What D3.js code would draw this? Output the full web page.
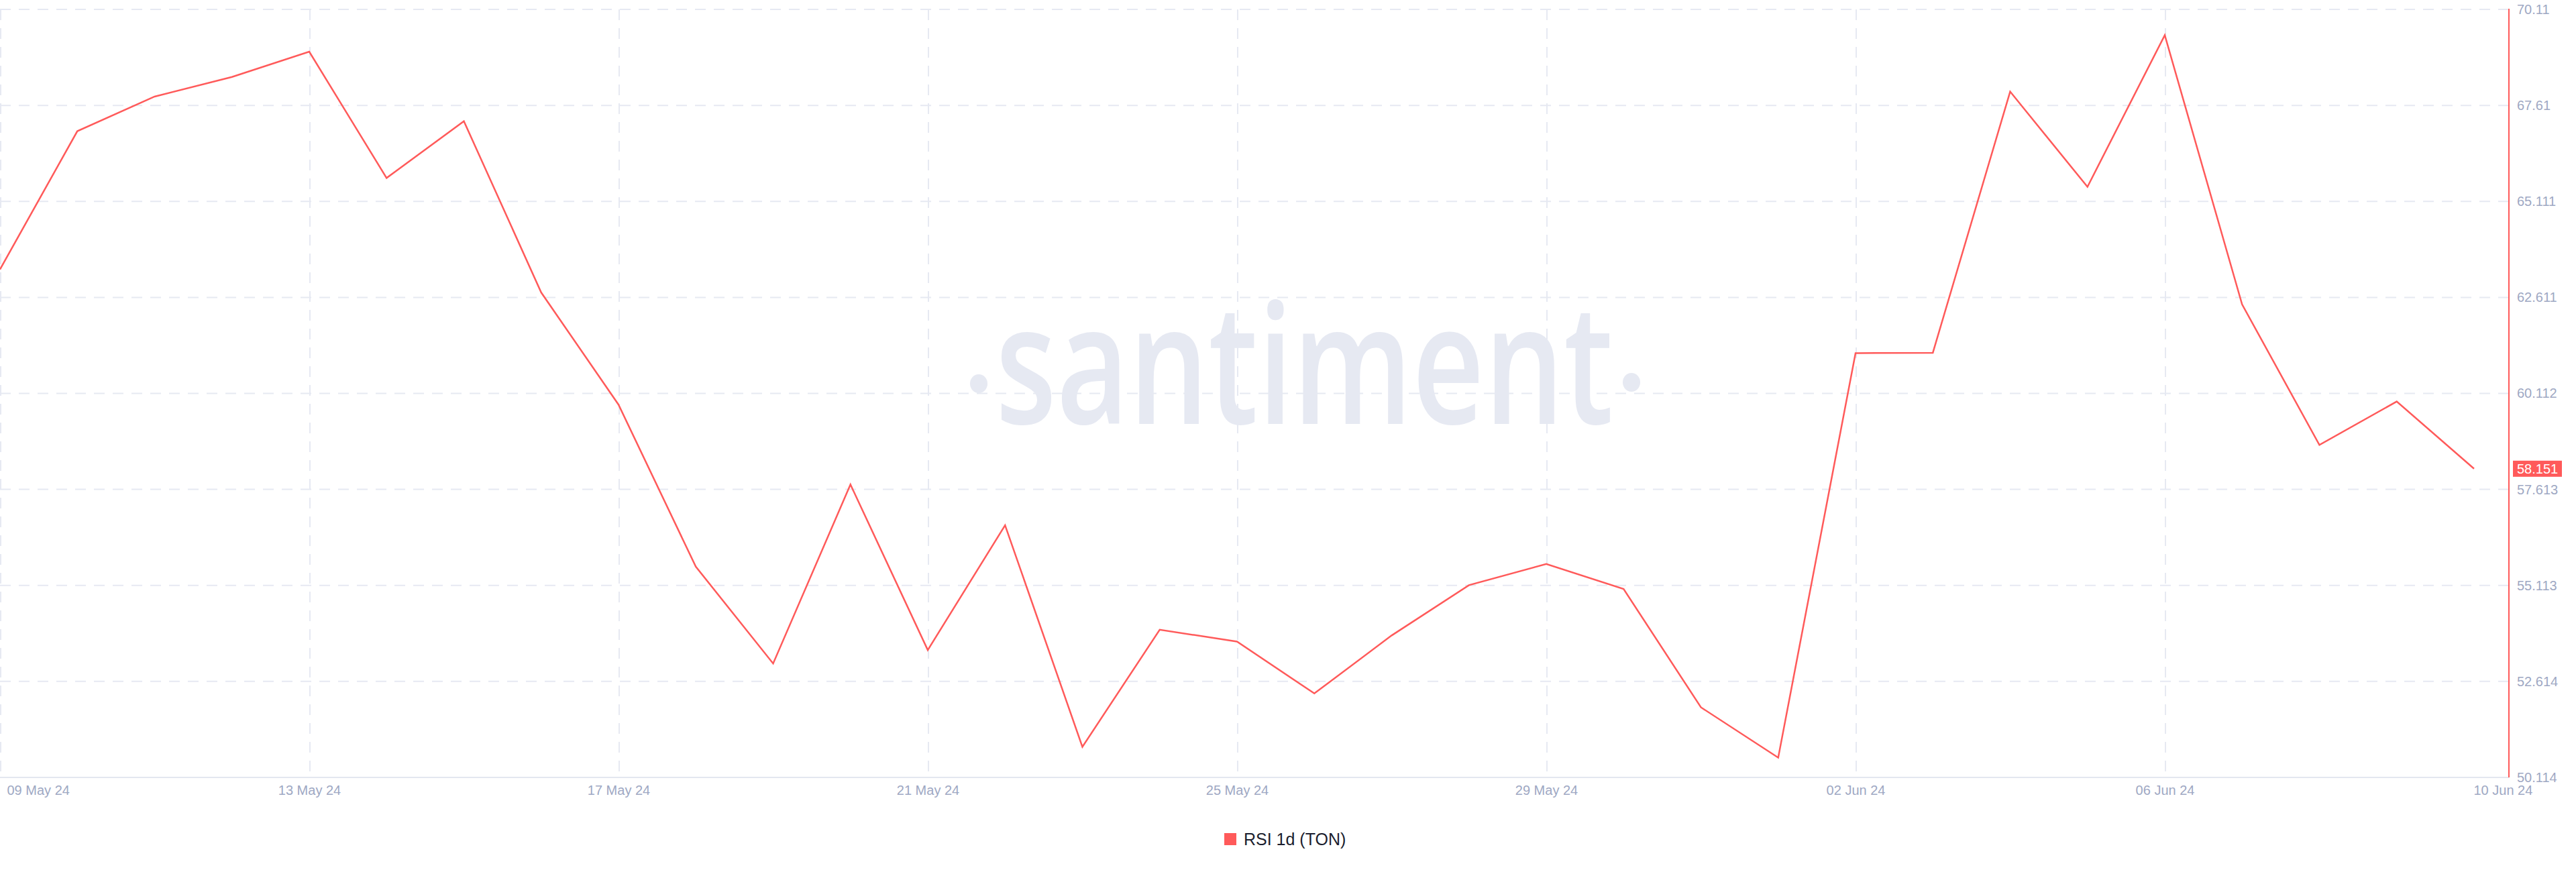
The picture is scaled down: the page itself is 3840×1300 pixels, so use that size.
<!DOCTYPE html>
<html>
<head>
<meta charset="utf-8">
<script src="https://cdn.jsdelivr.net/npm/d3@7"></script>
<style>
  html, body { margin: 0; padding: 0; background: #ffffff; }
  svg { display: block; }
</style>
</head>
<body>
<svg id="chart" width="3840" height="1300"></svg>
<script>
// ---- data ----
const dates = [
  "2024-05-09","2024-05-10","2024-05-11","2024-05-12","2024-05-13","2024-05-14","2024-05-15","2024-05-16",
  "2024-05-17","2024-05-18","2024-05-19","2024-05-20","2024-05-21","2024-05-22","2024-05-23","2024-05-24",
  "2024-05-25","2024-05-26","2024-05-27","2024-05-28","2024-05-29","2024-05-30","2024-05-31","2024-06-01",
  "2024-06-02","2024-06-03","2024-06-04","2024-06-05","2024-06-06","2024-06-07","2024-06-08","2024-06-09",
  "2024-06-10"
];
const rsiValues = [
  63.34, 66.94, 67.84, 68.35, 69.01, 65.72, 67.20, 62.74,
  59.82, 55.60, 53.08, 57.74, 53.43, 56.68, 50.91, 53.96,
  53.65, 52.30, 53.81, 55.12, 55.67, 55.02, 51.94, 50.63,
  61.16, 61.17, 67.97, 65.49, 69.44, 62.43, 58.77, 59.90,
  58.151
];
const yTickValues = [70.11, 67.61, 65.111, 62.611, 60.112, 57.613, 55.113, 52.614, 50.114];
const yTickLabels = ["70.11", "67.61", "65.111", "62.611", "60.112", "57.613", "55.113", "52.614", "50.114"];
const xTickDates = ["2024-05-09","2024-05-13","2024-05-17","2024-05-21","2024-05-25","2024-05-29","2024-06-02","2024-06-06","2024-06-10"];
const xTickLabels = ["09 May 24","13 May 24","17 May 24","21 May 24","25 May 24","29 May 24","02 Jun 24","06 Jun 24","10 Jun 24"];
const gridDates = ["2024-05-09","2024-05-13","2024-05-17","2024-05-21","2024-05-25","2024-05-29","2024-06-02","2024-06-06"];
const seriesName = "RSI 1d (TON)";
const lastValueLabel = "58.151";

// ---- layout ----
const parse = d3.utcParse("%Y-%m-%d");
const data = dates.map((d, i) => ({ date: parse(d), value: rsiValues[i] }));

const plotLeft = 0, plotRight = 3740, plotTop = 14, plotBottom = 1159;
const svg = d3.select("#chart");

const x = d3.scaleUtc()
  .domain([parse("2024-05-09"), parse("2024-06-10")])
  .range([0, 3688]);
const y = d3.scaleLinear()
  .domain([50.114, 70.11])
  .range([plotBottom, plotTop]);

const gridColor = "#e6e9f2";
const labelColor = "#9ea8c3";
const lineColor = "#ff5a5a";
const font = "'Liberation Sans', Arial, Helvetica, sans-serif";

// watermark
const wm = svg.append("g").attr("fill", "#e6e9f2");
wm.append("text")
  .attr("x", 1484).attr("y", 632)
  .attr("font-family", "'Open Sans', sans-serif")
  .attr("font-size", 248)
  .attr("font-weight", 600)
  .attr("textLength", 921)
  .attr("lengthAdjust", "spacingAndGlyphs")
  .text("santiment");
wm.append("ellipse").attr("cx", 1459).attr("cy", 572).attr("rx", 13).attr("ry", 14);
wm.append("ellipse").attr("cx", 2432).attr("cy", 570).attr("rx", 13).attr("ry", 14);

// horizontal grid
svg.append("g")
  .selectAll("line")
  .data(yTickValues.filter(v => v !== 50.114))
  .join("line")
  .attr("x1", plotLeft).attr("x2", plotRight)
  .attr("y1", d => y(d)).attr("y2", d => y(d))
  .attr("stroke", gridColor).attr("stroke-width", 2)
  .attr("stroke-dasharray", "16,12");

// vertical grid
svg.append("g")
  .selectAll("line")
  .data(gridDates.map(parse))
  .join("line")
  .attr("x1", d => x(d) + 1).attr("x2", d => x(d) + 1)
  .attr("y1", plotTop).attr("y2", plotBottom)
  .attr("stroke", gridColor).attr("stroke-width", 2)
  .attr("stroke-dasharray", "16,12");

// bottom axis
const xAxis = d3.axisBottom(x)
  .tickValues(xTickDates.map(parse))
  .tickFormat((d, i) => xTickLabels[i])
  .tickSize(0)
  .tickPadding(12);
const gx = svg.append("g")
  .attr("transform", `translate(0,${plotBottom})`)
  .call(xAxis);
gx.select(".domain").remove();
gx.selectAll("text")
  .attr("font-family", font)
  .attr("font-size", 20)
  .attr("fill", labelColor);
gx.selectAll(".tick").filter((d, i) => i === 0).select("text")
  .attr("text-anchor", "start").attr("x", 10);
gx.selectAll(".tick").filter((d, i) => i === xTickDates.length - 1).select("text")
  .attr("text-anchor", "start").attr("x", -1);
svg.append("line")
  .attr("x1", plotLeft).attr("x2", plotRight)
  .attr("y1", plotBottom).attr("y2", plotBottom)
  .attr("stroke", "#e3e7f0").attr("stroke-width", 2);

// right axis
const yAxis = d3.axisRight(y)
  .tickValues(yTickValues)
  .tickFormat((d, i) => yTickLabels[i])
  .tickSize(0)
  .tickPadding(12);
const gy = svg.append("g")
  .attr("transform", `translate(${plotRight},0)`)
  .call(yAxis);
gy.select(".domain").remove();
gy.selectAll("text")
  .attr("font-family", font)
  .attr("font-size", 20)
  .attr("fill", labelColor);
svg.append("line")
  .attr("x1", plotRight).attr("x2", plotRight)
  .attr("y1", plotTop - 1).attr("y2", plotBottom)
  .attr("stroke", lineColor).attr("stroke-width", 2);

// line
const line = d3.line().x(d => x(d.date)).y(d => y(d.value));
svg.append("path")
  .datum(data)
  .attr("d", line)
  .attr("fill", "none")
  .attr("stroke", lineColor)
  .attr("stroke-width", 2.5)
  .attr("stroke-linejoin", "miter");

// last value badge
const last = data[data.length - 1];
const by = y(last.value);
svg.append("rect")
  .attr("x", plotRight + 6).attr("y", by - 12)
  .attr("width", 73).attr("height", 24)
  .attr("fill", lineColor);
svg.append("text")
  .attr("x", plotRight + 12).attr("y", by)
  .attr("dy", "0.35em")
  .attr("font-family", font).attr("font-size", 20)
  .attr("fill", "#ffffff")
  .text(lastValueLabel);

// legend
const lg = svg.append("g").attr("transform", "translate(1825,1251)");
lg.append("rect").attr("x", 0).attr("y", -9).attr("width", 18).attr("height", 18).attr("fill", lineColor);
lg.append("text")
  .attr("x", 29).attr("y", 0).attr("dy", "0.35em")
  .attr("font-family", font).attr("font-size", 25)
  .attr("fill", "#1b1e2e")
  .text(seriesName);
</script>
</body>
</html>
